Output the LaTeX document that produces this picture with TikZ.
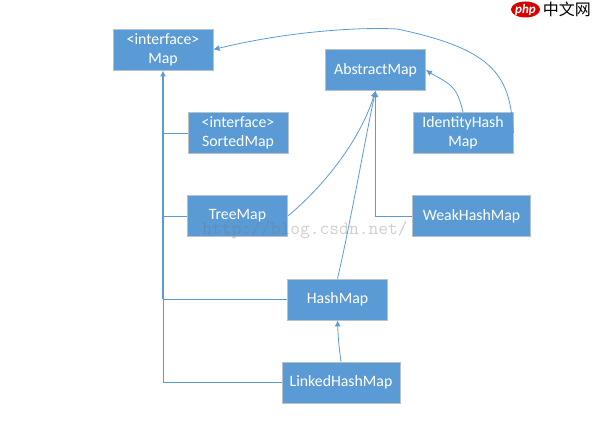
\documentclass[tikz,border=0pt]{standalone}
\usepackage{xcolor}
\usepackage{fontspec}
\setmainfont{Carlito}
\newfontfamily\cjkfont{Noto Sans CJK SC}
\usetikzlibrary{arrows.meta, positioning, calc, shapes.geometric}
\definecolor{boxblue}{HTML}{5B9BD5}
\definecolor{boxline}{HTML}{B9C0C8}
\begin{document}
\begin{tikzpicture}[x=1pt, y=-1pt,
    classbox/.style={rectangle, draw=boxline, line width=0.8pt, fill=boxblue, text=white, align=center,
        minimum width=100pt, minimum height=41pt, inner sep=1pt, font=\fontsize{15.8}{19}\selectfont},
    link/.style={draw=boxblue, line width=0.8pt},
    arrowlink/.style={link, -{Latex[length=6pt, width=6pt]}}]
    \useasboundingbox (0,0) rectangle (592,438);
    \node[classbox] (map) at (163,49.5) {<interface>\\Map};
    \node[classbox] (abstractmap) at (375.5,70) {AbstractMap};
    \node[classbox] (sortedmap) at (238,133) {<interface>\\SortedMap};
    \node[classbox] (identitymap) at (463,133) {IdentityHash\\Map};
    \node[classbox] (treemap) at (237.5,216) {TreeMap};
    \node[classbox, minimum width=118pt] (weakmap) at (471.5,216) {WeakHashMap};
    \node[classbox] (hashmap) at (337.5,299.5) {HashMap};
    \node[classbox, minimum width=118pt] (linkedmap) at (341,382.5) {LinkedHashMap};
    \coordinate (trunk) at (163,299.5);
    \coordinate (trunklow) at (163,382.5);
    \coordinate (weakbend) at (375.5,216);
    % links to Map
    \draw[arrowlink, line width=1.8pt] (trunk) -- (map.south);
    \draw[link] (sortedmap.west) -- (sortedmap.west -| trunk);
    \draw[link] (treemap.west) -- (treemap.west -| trunk);
    \draw[link] (hashmap.west) -- (trunk);
    \draw[link] (linkedmap.west) -- (trunklow) -- (trunk);
    \draw[arrowlink] (identitymap.east) .. controls (510,78) and (498,50) .. (397,29)
        .. controls (360,27) and (290,31) .. (map.east);
    % links to AbstractMap
    \draw[arrowlink] (identitymap.north) .. controls (459,95) and (455,90) .. (452,87)
        .. controls (445,80) and (435,76) .. (abstractmap.east);
    \draw[arrowlink] (weakmap.west) -- (weakbend) -- (abstractmap.south);
    \draw[arrowlink] (treemap.east) .. controls (325,185) and (360,140) .. (abstractmap.south);
    \draw[arrowlink] (hashmap.north) .. controls (350,225) and (365,140) .. (abstractmap.south);
    \draw[arrowlink] (linkedmap.north) .. controls (339,348) and (338,335) .. (hashmap.south);
    % watermark and logo
    \node[text=black!55, opacity=0.35, font=\fontsize{19}{19}\ttfamily, inner sep=0pt] (watermark) at (305,230) {http://blog.csdn.net/};
    \node[ellipse, fill=red!85!black, text=white, inner sep=0pt, minimum width=29pt, minimum height=16pt,
        font=\fontsize{13}{13}\itshape\bfseries] (phplogo) at (525.5,9.5) {php};
    \node[right=2.5pt of phplogo, inner sep=0pt, font=\fontsize{16}{16}\cjkfont] (sitename) {中文网};
\end{tikzpicture}
\end{document}
